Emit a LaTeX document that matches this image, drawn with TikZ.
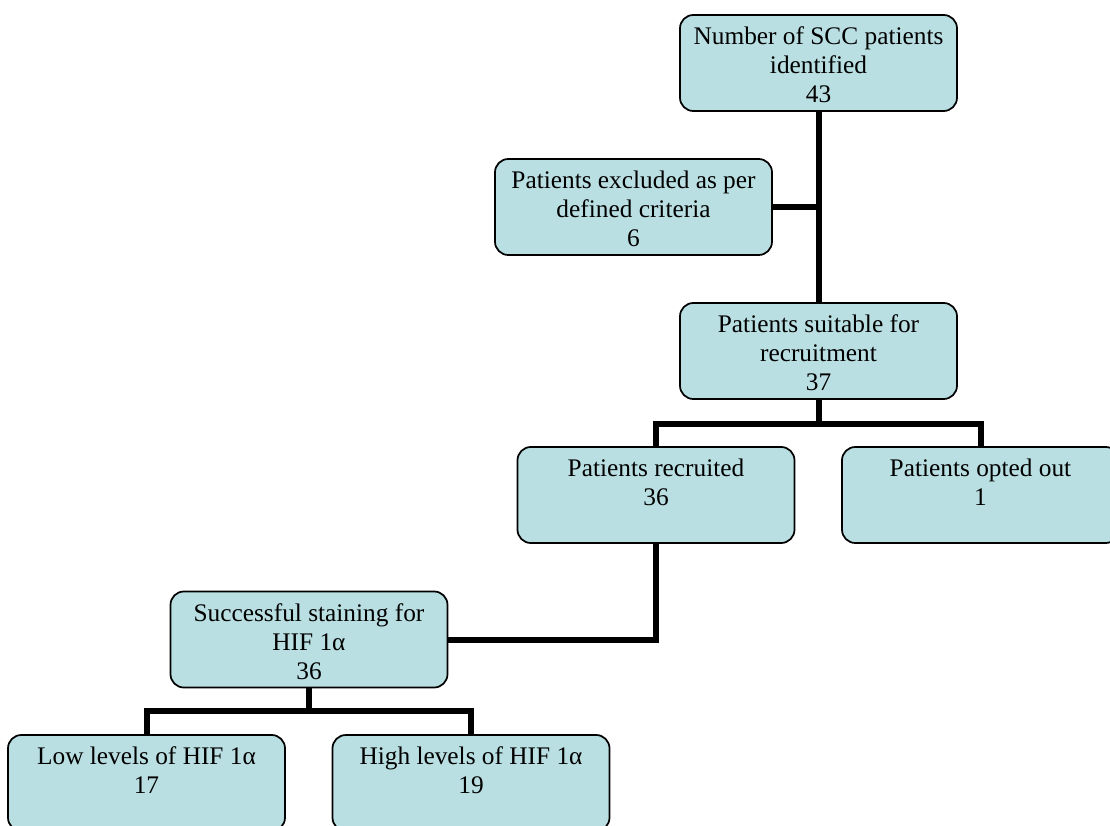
\documentclass[tikz,border=0pt]{standalone}
\usepackage{fontspec}
\setmainfont{Liberation Serif}
\usepackage{xcolor}
\usepackage{tikz}
\usetikzlibrary{positioning}

\definecolor{boxfill}{HTML}{B9DFE2}
% text sits at the top of each box
\newcommand{\boxtxt}[1]{\parbox[c][58pt][t]{200pt}{\centering\strut #1}}

\begin{document}
\begin{tikzpicture}[
        x=0.75pt, y=-0.75pt,
        every node/.style={font=\fontsize{19}{21.75}\selectfont},
        flowbox/.style={rectangle, rounded corners=10pt, draw=black, line width=1.3pt,
                        fill=boxfill, minimum width=207.75pt, minimum height=72pt, inner sep=0pt},
        link/.style={line width=4.5pt}
    ]
    \useasboundingbox (0,0) rectangle (1110,825);
    % Boxes
    \node[flowbox] (ident)    at (818.5, 63)   {\boxtxt{Number of SCC patients\\identified\\43}};
    \node[flowbox] (excl)     at (633.5, 207)  {\boxtxt{Patients excluded as per\\defined criteria\\6}};
    \node[flowbox] (suit)     at (818.5, 351)  {\boxtxt{Patients suitable for\\recruitment\\37}};
    \node[flowbox] (recr)     at (656, 495)    {\boxtxt{Patients recruited\\36}};
    \node[flowbox] (optout)   at (980.5, 495)  {\boxtxt{Patients opted out\\1}};
    \node[flowbox] (stain)    at (309, 639.5)  {\boxtxt{Successful staining for\\HIF 1α\\36}};
    \node[flowbox] (low)      at (146.5, 783)  {\boxtxt{Low levels of HIF 1α\\17}};
    \node[flowbox] (high)     at (471, 783)    {\boxtxt{High levels of HIF 1α\\19}};
    % Connectors
    \draw[link] (ident.south) -- (suit.north);
    \draw[link] (excl.east) -- (excl.east -| ident.south);
    \draw[link] (suit.south) -- ++(0,24) coordinate (splitA);
    \draw[link] (recr.north) |- (splitA) -| (optout.north);
    \draw[link] (recr.south) |- (stain.east);
    \draw[link] (stain.south) -- ++(0,23) coordinate (splitB);
    \draw[link] (low.north) |- (splitB) -| (high.north);
\end{tikzpicture}
\end{document}
